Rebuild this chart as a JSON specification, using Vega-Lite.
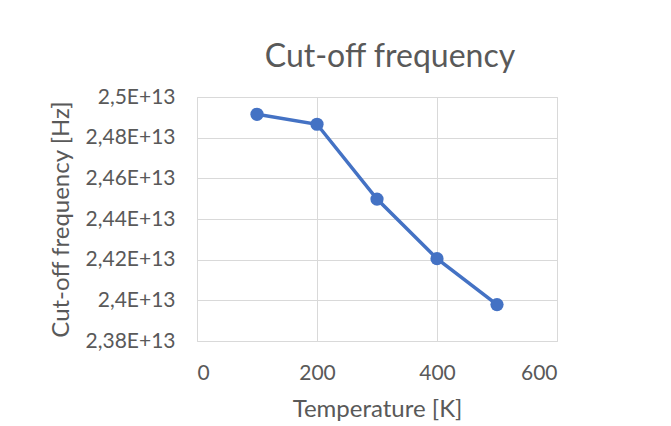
{
  "$schema": "https://vega.github.io/schema/vega-lite/v6.json",
  "width": 360,
  "height": 244,
  "autosize": {"type": "none"},
  "padding": {"left": 197, "top": 97, "right": 114, "bottom": 85},
  "background": "white",
  "title": {
    "text": "Cut-off frequency",
    "fontSize": 32,
    "font": "Lato",
    "fontWeight": "normal",
    "color": "#595959",
    "anchor": "middle",
    "dx": 13,
    "offset": 12
  },
  "data": {
    "values": [
      {"T": 100, "f": 2.4915e13},
      {"T": 200, "f": 2.4866e13},
      {"T": 300, "f": 2.4498e13},
      {"T": 400, "f": 2.4205e13},
      {"T": 500, "f": 2.3979e13}
    ]
  },
  "config": {
    "view": {"stroke": "#d9d9d9", "strokeWidth": 1},
    "axis": {
      "labelFont": "Lato",
      "titleFont": "Lato",
      "labelColor": "#595959",
      "titleColor": "#595959",
      "labelFontSize": 21,
      "titleFontSize": 24,
      "titleFontWeight": "normal",
      "gridColor": "#d9d9d9",
      "gridWidth": 1,
      "domain": false,
      "ticks": false
    }
  },
  "layer": [
    {
      "mark": {"type": "line", "color": "#4472C4", "strokeWidth": 3.5},
      "encoding": {
        "x": {"field": "T", "type": "quantitative"},
        "y": {"field": "f", "type": "quantitative"}
      }
    },
    {
      "mark": {"type": "point", "filled": true, "color": "#4472C4", "size": 175, "opacity": 1},
      "encoding": {
        "x": {
          "field": "T",
          "type": "quantitative",
          "scale": {"domain": [0, 600], "nice": false},
          "axis": {
            "values": [0, 200, 400, 600],
            "title": "Temperature [K]",
            "labelPadding": 21,
            "titlePadding": 14
          }
        },
        "y": {
          "field": "f",
          "type": "quantitative",
          "scale": {"domain": [2.38e13, 2.5e13], "nice": false, "zero": false},
          "axis": {
            "values": [2.38e13, 2.40e13, 2.42e13, 2.44e13, 2.46e13, 2.48e13, 2.5e13],
            "labelExpr": "replace(format(datum.value/1e13, '.2~f'), '.', ',') + 'E+13'",
            "title": "Cut-off frequency [Hz]",
            "labelPadding": 22,
            "titlePadding": 12
          }
        }
      }
    }
  ]
}
